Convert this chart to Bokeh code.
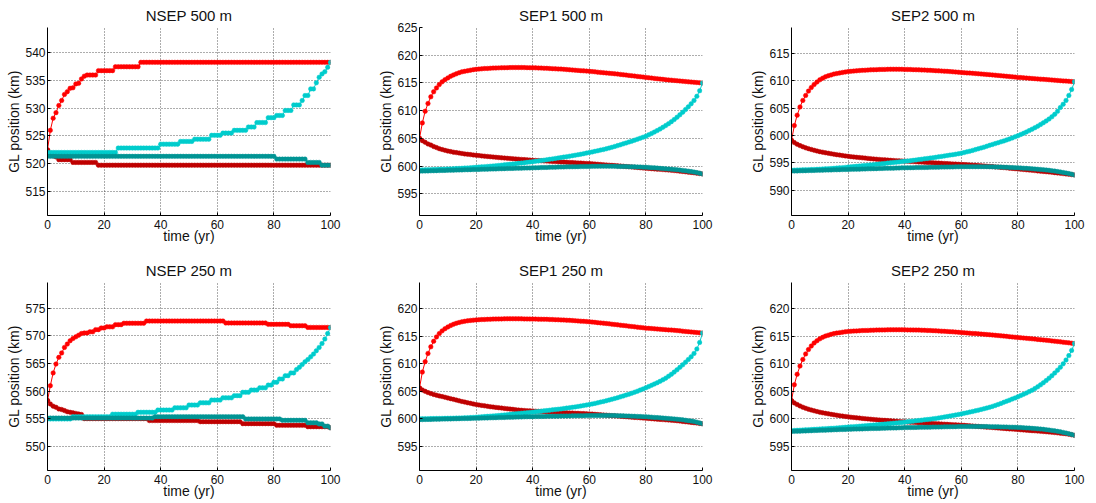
from bokeh.plotting import figure
from bokeh.layouts import column, row
from bokeh.models import FixedTicker, Range1d
from bokeh.embed import file_html
from bokeh.resources import INLINE

# ---------------- data ----------------
years = list(range(0, 101))

# NSEP panels are piecewise constant: (value, number of yearly samples)
nsep500_red_steps = [(522.5, 1), (526.0, 1), (528.2, 1), (529.2, 1), (530.5, 1), (531.4, 1), (532.5, 1),
                     (533.0, 1), (533.6, 1), (533.7, 1), (534.4, 1), (534.5, 1), (535.3, 1), (535.8, 1),
                     (536.0, 4), (536.8, 6), (537.5, 9), (538.3, 68)]
nsep500_dred_steps = [(522.4, 1), (521.8, 1), (521.4, 1), (521.2, 1), (520.7, 5), (520.2, 9), (519.7, 83)]
nsep500_cyan_steps = [(522.0, 25), (522.8, 15), (523.5, 7), (524.0, 5), (524.4, 6), (525.1, 4), (525.5, 4),
                      (526.0, 5), (526.6, 3), (527.4, 4), (528.3, 3), (528.7, 3), (529.6, 3), (530.6, 3),
                      (531.4, 1), (532.3, 2), (533.5, 2), (534.6, 1), (535.6, 1), (536.2, 1), (536.6, 1),
                      (537.4, 1), (538.3, 1)]
nsep500_teal_steps = [(521.3, 81), (520.8, 11), (520.2, 5), (519.7, 4)]

nsep250_red_steps = [(558.3, 1), (561.0, 1), (563.3, 1), (564.9, 1), (566.1, 1), (566.9, 1), (567.9, 1),
                     (568.5, 1), (569.1, 1), (569.5, 1), (569.8, 1), (570.1, 1), (570.4, 1),
                     (570.5, 2), (570.7, 2), (571.1, 2), (571.4, 2), (571.6, 3), (572.0, 3), (572.25, 8),
                     (572.65, 28), (572.3, 15), (572.05, 8), (571.8, 6), (571.5, 9)]
nsep250_dred_steps = [(558.3, 1), (557.7, 1), (557.3, 1), (557.1, 1), (556.8, 1), (556.7, 1), (556.5, 1),
                      (556.3, 1), (556.2, 1), (556.1, 1), (556.0, 1), (555.9, 1), (555.8, 1),
                      (555.05, 23), (554.7, 18), (554.5, 15), (554.15, 12), (553.85, 11), (553.6, 8), (553.4, 1)]
nsep250_cyan_steps = [(555.0, 9), (555.4, 14), (555.85, 9), (556.2, 7), (556.6, 6), (557.0, 5), (557.5, 4),
                      (557.9, 4), (558.4, 4), (558.8, 4), (559.2, 3), (559.8, 3), (560.2, 3), (560.6, 3),
                      (561.1, 2), (561.6, 2), (562.2, 2), (562.8, 2), (563.3, 2), (563.9, 1), (564.3, 1),
                      (564.8, 1), (565.3, 1), (565.7, 1), (566.2, 1), (566.7, 1), (567.3, 1), (567.9, 1),
                      (568.6, 1), (569.4, 1), (570.4, 1), (571.5, 1)]
nsep250_teal_steps = [(555.15, 38), (555.4, 32), (555.0, 13), (554.75, 9), (554.3, 4), (554.1, 2), (553.7, 2),
                      (553.4, 1)]

sep1_500_red = [605.0, 607.8, 609.9, 611.3, 612.5, 613.4, 614.1, 614.7, 615.2, 615.6,
                615.9, 616.2, 616.45, 616.65, 616.85, 617.0, 617.1, 617.2, 617.3, 617.4,
                617.45, 617.5, 617.55, 617.6, 617.62, 617.65, 617.68, 617.7, 617.72, 617.74,
                617.75, 617.76, 617.77, 617.78, 617.78, 617.78, 617.78, 617.77, 617.76, 617.75,
                617.74, 617.72, 617.7, 617.68, 617.66, 617.64, 617.61, 617.58, 617.55, 617.52,
                617.5, 617.46, 617.42, 617.38, 617.34, 617.3, 617.26, 617.22, 617.18, 617.14,
                617.1, 617.05, 617.0, 616.95, 616.9, 616.85, 616.8, 616.75, 616.7, 616.65,
                616.6, 616.54, 616.48, 616.42, 616.36, 616.3, 616.24, 616.18, 616.12, 616.06,
                616.0, 615.94, 615.88, 615.82, 615.76, 615.7, 615.65, 615.6, 615.55, 615.5,
                615.45, 615.4, 615.35, 615.3, 615.25, 615.2, 615.16, 615.12, 615.08, 615.04, 615.0]
sep1_500_dred = [605.0, 604.6, 604.3, 604.0, 603.8, 603.55, 603.35, 603.15, 603.0, 602.85,
                 602.72, 602.62, 602.52, 602.44, 602.36, 602.28, 602.2, 602.14, 602.08, 602.02,
                 601.96, 601.9, 601.85, 601.8, 601.75, 601.7, 601.65, 601.6, 601.55, 601.5,
                 601.46, 601.42, 601.38, 601.34, 601.3, 601.26, 601.22, 601.18, 601.14, 601.1,
                 601.06, 601.03, 601.0, 600.97, 600.94, 600.91, 600.88, 600.85, 600.82, 600.79,
                 600.76, 600.73, 600.7, 600.67, 600.64, 600.61, 600.58, 600.55, 600.52, 600.49,
                 600.46, 600.42, 600.38, 600.34, 600.3, 600.26, 600.22, 600.18, 600.14, 600.1,
                 600.06, 600.02, 599.98, 599.93, 599.89, 599.85, 599.8, 599.76, 599.71, 599.66,
                 599.62, 599.58, 599.54, 599.5, 599.46, 599.42, 599.38, 599.34, 599.3, 599.25,
                 599.2, 599.15, 599.1, 599.04, 598.98, 598.92, 598.86, 598.8, 598.74, 598.67, 598.6]
sep1_500_cyan = [599.3, 599.32, 599.33, 599.35, 599.37, 599.38, 599.4, 599.42, 599.44, 599.46,
                 599.48, 599.5, 599.53, 599.56, 599.59, 599.62, 599.65, 599.68, 599.71, 599.75,
                 599.79, 599.83, 599.87, 599.91, 599.95, 599.99, 600.03, 600.08, 600.13, 600.18,
                 600.23, 600.28, 600.33, 600.38, 600.44, 600.5, 600.56, 600.62, 600.68, 600.74,
                 600.8, 600.87, 600.94, 601.01, 601.08, 601.15, 601.23, 601.31, 601.39, 601.47,
                 601.55, 601.63, 601.71, 601.79, 601.88, 601.97, 602.06, 602.15, 602.25, 602.35,
                 602.45, 602.56, 602.67, 602.78, 602.89, 603.0, 603.13, 603.26, 603.4, 603.55,
                 603.7, 603.86, 604.02, 604.18, 604.34, 604.5, 604.68, 604.86, 605.04, 605.22,
                 605.4, 605.65, 605.9, 606.15, 606.42, 606.7, 607.0, 607.32, 607.66, 608.02,
                 608.4, 608.82, 609.26, 609.72, 610.2, 610.7, 611.25, 611.85, 612.6, 613.6, 615.0]
sep1_500_teal = [599.1, 599.11, 599.13, 599.14, 599.16, 599.17, 599.19, 599.2, 599.22, 599.23,
                 599.25, 599.26, 599.28, 599.29, 599.31, 599.32, 599.34, 599.35, 599.37, 599.38,
                 599.4, 599.41, 599.43, 599.44, 599.46, 599.47, 599.49, 599.5, 599.52, 599.53,
                 599.55, 599.56, 599.58, 599.59, 599.61, 599.62, 599.64, 599.65, 599.67, 599.68,
                 599.7, 599.71, 599.73, 599.74, 599.76, 599.77, 599.79, 599.8, 599.82, 599.83,
                 599.85, 599.86, 599.87, 599.88, 599.89, 599.9, 599.91, 599.92, 599.93, 599.94,
                 599.95, 599.96, 599.97, 599.98, 599.99, 600.0, 600.0, 599.99, 599.98, 599.97,
                 599.95, 599.94, 599.93, 599.92, 599.91, 599.9, 599.88, 599.86, 599.84, 599.82,
                 599.8, 599.77, 599.73, 599.69, 599.65, 599.6, 599.56, 599.52, 599.48, 599.44,
                 599.4, 599.35, 599.29, 599.23, 599.17, 599.1, 599.02, 598.93, 598.84, 598.73, 598.6]

sep2_500_red = [599.1, 601.8, 603.7, 605.2, 606.4, 607.3, 608.1, 608.75, 609.3, 609.75,
                610.15, 610.45, 610.7, 610.9, 611.05, 611.2, 611.3, 611.4, 611.5, 611.58,
                611.65, 611.7, 611.75, 611.8, 611.84, 611.88, 611.91, 611.94, 611.97, 611.99,
                612.01, 612.03, 612.05, 612.06, 612.07, 612.08, 612.08, 612.08, 612.08, 612.07,
                612.06, 612.05, 612.03, 612.01, 611.99, 611.97, 611.95, 611.93, 611.9, 611.88,
                611.85, 611.82, 611.79, 611.76, 611.73, 611.7, 611.66, 611.62, 611.58, 611.54,
                611.5, 611.46, 611.42, 611.38, 611.34, 611.3, 611.26, 611.22, 611.18, 611.14,
                611.1, 611.05, 611.0, 610.95, 610.9, 610.85, 610.8, 610.75, 610.7, 610.65,
                610.6, 610.56, 610.52, 610.48, 610.44, 610.4, 610.36, 610.32, 610.28, 610.24,
                610.2, 610.16, 610.12, 610.08, 610.04, 610.0, 609.96, 609.92, 609.88, 609.84, 609.8]
sep2_500_dred = [599.1, 598.7, 598.4, 598.15, 597.95, 597.75, 597.6, 597.45, 597.3, 597.17,
                 597.05, 596.95, 596.85, 596.76, 596.67, 596.58, 596.5, 596.42, 596.34, 596.27,
                 596.2, 596.14, 596.08, 596.02, 595.97, 595.92, 595.87, 595.82, 595.77, 595.72,
                 595.67, 595.63, 595.59, 595.55, 595.51, 595.47, 595.44, 595.41, 595.38, 595.35,
                 595.32, 595.29, 595.26, 595.23, 595.2, 595.17, 595.14, 595.11, 595.08, 595.05,
                 595.02, 594.99, 594.96, 594.93, 594.9, 594.87, 594.84, 594.81, 594.78, 594.75,
                 594.72, 594.69, 594.66, 594.62, 594.59, 594.55, 594.52, 594.48, 594.44, 594.4,
                 594.36, 594.32, 594.27, 594.23, 594.18, 594.14, 594.09, 594.04, 593.99, 593.94,
                 593.89, 593.84, 593.79, 593.74, 593.69, 593.64, 593.59, 593.54, 593.49, 593.44,
                 593.39, 593.34, 593.28, 593.22, 593.16, 593.1, 593.04, 592.98, 592.92, 592.86, 592.8]
sep2_500_cyan = [593.65, 593.67, 593.69, 593.71, 593.73, 593.75, 593.77, 593.79, 593.81, 593.83,
                 593.86, 593.89, 593.92, 593.95, 593.98, 594.01, 594.05, 594.09, 594.13, 594.18,
                 594.23, 594.28, 594.33, 594.38, 594.43, 594.48, 594.53, 594.58, 594.63, 594.68,
                 594.73, 594.79, 594.85, 594.91, 594.97, 595.03, 595.08, 595.13, 595.18, 595.23,
                 595.28, 595.34, 595.4, 595.46, 595.53, 595.6, 595.67, 595.74, 595.81, 595.88,
                 595.95, 596.02, 596.1, 596.18, 596.26, 596.34, 596.42, 596.5, 596.58, 596.67,
                 596.76, 596.88, 597.01, 597.14, 597.28, 597.42, 597.57, 597.72, 597.87, 598.03,
                 598.2, 598.36, 598.52, 598.68, 598.84, 599.0, 599.18, 599.36, 599.55, 599.75,
                 599.95, 600.17, 600.4, 600.64, 600.89, 601.15, 601.42, 601.7, 602.0, 602.32,
                 602.65, 603.0, 603.4, 603.85, 604.4, 605.1, 605.7, 606.4, 607.3, 608.4, 609.8]
sep2_500_teal = [593.5, 593.52, 593.53, 593.55, 593.56, 593.58, 593.59, 593.61, 593.62, 593.64,
                 593.65, 593.67, 593.68, 593.7, 593.71, 593.73, 593.74, 593.76, 593.77, 593.79,
                 593.8, 593.82, 593.83, 593.85, 593.86, 593.88, 593.89, 593.91, 593.92, 593.94,
                 593.95, 593.97, 593.98, 594.0, 594.01, 594.03, 594.04, 594.06, 594.07, 594.09,
                 594.1, 594.11, 594.12, 594.13, 594.14, 594.15, 594.16, 594.17, 594.18, 594.19,
                 594.2, 594.21, 594.22, 594.23, 594.24, 594.25, 594.26, 594.27, 594.28, 594.29,
                 594.3, 594.3, 594.31, 594.31, 594.31, 594.31, 594.31, 594.31, 594.3, 594.3,
                 594.29, 594.28, 594.27, 594.25, 594.24, 594.22, 594.2, 594.18, 594.15, 594.13,
                 594.1, 594.07, 594.03, 594.0, 593.96, 593.92, 593.88, 593.84, 593.79, 593.75,
                 593.7, 593.64, 593.57, 593.5, 593.42, 593.34, 593.25, 593.16, 593.06, 592.94, 592.8]

sep1_250_red = [605.6, 608.5, 610.4, 611.9, 613.1, 614.1, 614.9, 615.5, 616.0, 616.4,
                616.7, 616.97, 617.2, 617.38, 617.53, 617.65, 617.75, 617.83, 617.9, 617.95,
                618.0, 618.03, 618.06, 618.08, 618.1, 618.12, 618.14, 618.16, 618.17, 618.18,
                618.19, 618.2, 618.2, 618.2, 618.2, 618.2, 618.19, 618.18, 618.17, 618.16,
                618.15, 618.14, 618.13, 618.12, 618.11, 618.1, 618.08, 618.06, 618.04, 618.02,
                618.0, 617.97, 617.94, 617.91, 617.88, 617.85, 617.81, 617.77, 617.73, 617.69,
                617.65, 617.6, 617.55, 617.5, 617.45, 617.4, 617.34, 617.28, 617.22, 617.16,
                617.1, 617.04, 616.98, 616.92, 616.86, 616.8, 616.74, 616.68, 616.62, 616.56,
                616.5, 616.46, 616.42, 616.38, 616.34, 616.3, 616.26, 616.22, 616.18, 616.14,
                616.1, 616.05, 616.0, 615.95, 615.9, 615.85, 615.8, 615.75, 615.7, 615.65, 615.6]
sep1_250_dred = [605.6, 605.25, 605.0, 604.78, 604.6, 604.44, 604.3, 604.17, 604.05, 603.93,
                 603.8, 603.67, 603.54, 603.41, 603.28, 603.15, 603.04, 602.93, 602.82, 602.71,
                 602.6, 602.52, 602.44, 602.36, 602.28, 602.2, 602.14, 602.08, 602.02, 601.96,
                 601.9, 601.84, 601.78, 601.72, 601.66, 601.6, 601.56, 601.52, 601.48, 601.45,
                 601.42, 601.39, 601.36, 601.34, 601.31, 601.28, 601.26, 601.23, 601.2, 601.18,
                 601.15, 601.12, 601.1, 601.07, 601.05, 601.02, 601.0, 600.97, 600.95, 600.92,
                 600.9, 600.86, 600.82, 600.78, 600.74, 600.7, 600.66, 600.62, 600.58, 600.54,
                 600.5, 600.46, 600.42, 600.38, 600.34, 600.3, 600.26, 600.22, 600.18, 600.14,
                 600.1, 600.06, 600.02, 599.98, 599.94, 599.9, 599.86, 599.82, 599.78, 599.74,
                 599.7, 599.65, 599.59, 599.53, 599.47, 599.41, 599.35, 599.29, 599.23, 599.17, 599.1]
sep1_250_cyan = [600.0, 600.01, 600.02, 600.03, 600.04, 600.05, 600.06, 600.07, 600.08, 600.09,
                 600.1, 600.11, 600.12, 600.13, 600.15, 600.17, 600.19, 600.21, 600.23, 600.26,
                 600.3, 600.33, 600.37, 600.41, 600.45, 600.49, 600.53, 600.57, 600.61, 600.66,
                 600.71, 600.76, 600.81, 600.86, 600.91, 600.96, 601.01, 601.06, 601.11, 601.16,
                 601.21, 601.27, 601.33, 601.39, 601.45, 601.51, 601.57, 601.63, 601.69, 601.75,
                 601.81, 601.88, 601.95, 602.02, 602.09, 602.17, 602.25, 602.33, 602.42, 602.51,
                 602.6, 602.7, 602.81, 602.92, 603.04, 603.16, 603.29, 603.42, 603.56, 603.7,
                 603.85, 604.0, 604.16, 604.32, 604.49, 604.66, 604.84, 605.03, 605.23, 605.43,
                 605.65, 605.87, 606.1, 606.34, 606.58, 606.82, 607.1, 607.4, 607.75, 608.1,
                 608.5, 608.92, 609.36, 609.82, 610.3, 610.8, 611.3, 611.9, 612.7, 613.9, 615.6]
sep1_250_teal = [599.85, 599.86, 599.88, 599.89, 599.9, 599.91, 599.93, 599.94, 599.95, 599.96,
                 599.98, 599.99, 600.0, 600.01, 600.03, 600.04, 600.05, 600.06, 600.08, 600.09,
                 600.1, 600.12, 600.13, 600.15, 600.16, 600.18, 600.19, 600.21, 600.22, 600.24,
                 600.25, 600.27, 600.28, 600.3, 600.31, 600.33, 600.34, 600.36, 600.37, 600.39,
                 600.4, 600.41, 600.42, 600.43, 600.44, 600.45, 600.46, 600.47, 600.48, 600.49,
                 600.5, 600.51, 600.52, 600.53, 600.54, 600.55, 600.56, 600.57, 600.58, 600.59,
                 600.6, 600.6, 600.61, 600.61, 600.61, 600.61, 600.61, 600.6, 600.6, 600.59,
                 600.58, 600.56, 600.54, 600.52, 600.5, 600.48, 600.46, 600.44, 600.42, 600.4,
                 600.37, 600.34, 600.3, 600.26, 600.22, 600.18, 600.14, 600.1, 600.06, 600.02,
                 599.98, 599.93, 599.87, 599.81, 599.74, 599.67, 599.59, 599.5, 599.4, 599.26, 599.1]

sep2_250_red = [603.3, 606.2, 608.1, 609.6, 610.8, 611.8, 612.6, 613.25, 613.8, 614.2,
                614.55, 614.82, 615.05, 615.22, 615.37, 615.5, 615.6, 615.68, 615.76, 615.83,
                615.89, 615.93, 615.96, 615.99, 616.02, 616.05, 616.07, 616.09, 616.11, 616.13,
                616.15, 616.16, 616.17, 616.18, 616.19, 616.2, 616.2, 616.2, 616.2, 616.2,
                616.19, 616.18, 616.17, 616.16, 616.15, 616.14, 616.12, 616.1, 616.08, 616.06,
                616.04, 616.01, 615.98, 615.95, 615.92, 615.89, 615.86, 615.82, 615.78, 615.74,
                615.7, 615.66, 615.62, 615.58, 615.54, 615.5, 615.46, 615.42, 615.38, 615.34,
                615.3, 615.25, 615.2, 615.15, 615.1, 615.05, 615.0, 614.95, 614.9, 614.85,
                614.8, 614.75, 614.7, 614.65, 614.6, 614.55, 614.5, 614.45, 614.4, 614.35,
                614.3, 614.24, 614.18, 614.12, 614.06, 614.0, 613.94, 613.88, 613.82, 613.76, 613.7]
sep2_250_dred = [603.3, 602.9, 602.6, 602.35, 602.12, 601.92, 601.75, 601.6, 601.46, 601.33,
                 601.21, 601.1, 601.0, 600.91, 600.82, 600.74, 600.66, 600.58, 600.5, 600.43,
                 600.36, 600.3, 600.24, 600.18, 600.13, 600.08, 600.03, 599.98, 599.93, 599.88,
                 599.84, 599.8, 599.76, 599.72, 599.68, 599.64, 599.6, 599.56, 599.52, 599.48,
                 599.45, 599.42, 599.39, 599.36, 599.33, 599.3, 599.27, 599.24, 599.21, 599.18,
                 599.15, 599.12, 599.09, 599.06, 599.03, 599.0, 598.97, 598.94, 598.91, 598.88,
                 598.85, 598.81, 598.77, 598.73, 598.69, 598.65, 598.61, 598.57, 598.53, 598.49,
                 598.45, 598.41, 598.37, 598.33, 598.29, 598.25, 598.21, 598.17, 598.13, 598.09,
                 598.05, 598.01, 597.97, 597.93, 597.89, 597.85, 597.81, 597.77, 597.73, 597.69,
                 597.65, 597.6, 597.55, 597.5, 597.45, 597.39, 597.33, 597.27, 597.2, 597.1, 597.0]
sep2_250_cyan = [597.85, 597.88, 597.91, 597.94, 597.97, 598.0, 598.03, 598.06, 598.09, 598.12,
                 598.15, 598.18, 598.21, 598.24, 598.27, 598.3, 598.34, 598.38, 598.42, 598.46,
                 598.5, 598.54, 598.58, 598.62, 598.66, 598.7, 598.74, 598.78, 598.82, 598.86,
                 598.9, 598.95, 599.0, 599.05, 599.1, 599.15, 599.2, 599.25, 599.3, 599.35,
                 599.4, 599.46, 599.52, 599.58, 599.64, 599.7, 599.76, 599.82, 599.88, 599.94,
                 600.0, 600.08, 600.16, 600.24, 600.33, 600.42, 600.51, 600.6, 600.7, 600.8,
                 600.9, 601.0, 601.11, 601.22, 601.34, 601.46, 601.58, 601.7, 601.83, 601.96,
                 602.1, 602.26, 602.43, 602.61, 602.8, 603.0, 603.2, 603.4, 603.6, 603.8,
                 604.0, 604.23, 604.46, 604.7, 604.95, 605.2, 605.5, 605.83, 606.18, 606.56,
                 606.96, 607.4, 607.85, 608.33, 608.85, 609.4, 610.0, 610.7, 611.5, 612.45, 613.7]
sep2_250_teal = [597.7, 597.72, 597.74, 597.76, 597.78, 597.8, 597.82, 597.84, 597.86, 597.88,
                 597.9, 597.92, 597.94, 597.96, 597.98, 598.0, 598.02, 598.04, 598.06, 598.08,
                 598.1, 598.11, 598.13, 598.14, 598.16, 598.17, 598.19, 598.2, 598.22, 598.23,
                 598.25, 598.26, 598.28, 598.29, 598.31, 598.32, 598.34, 598.35, 598.37, 598.38,
                 598.4, 598.41, 598.42, 598.43, 598.44, 598.45, 598.46, 598.47, 598.48, 598.49,
                 598.5, 598.51, 598.52, 598.53, 598.54, 598.55, 598.56, 598.57, 598.58, 598.59,
                 598.6, 598.6, 598.61, 598.61, 598.61, 598.61, 598.61, 598.6, 598.6, 598.59,
                 598.58, 598.57, 598.56, 598.55, 598.53, 598.52, 598.5, 598.49, 598.48, 598.46,
                 598.44, 598.41, 598.38, 598.35, 598.31, 598.27, 598.23, 598.19, 598.14, 598.09,
                 598.03, 597.96, 597.89, 597.81, 597.72, 597.63, 597.53, 597.42, 597.3, 597.16, 597.0]

titles = ["NSEP 500 m", "SEP1 500 m", "SEP2 500 m", "NSEP 250 m", "SEP1 250 m", "SEP2 250 m"]
y_ranges = [(510.6, 544.6), (591.1, 625.0), (585.4, 619.7), (545.7, 579.6), (590.6, 624.8), (590.6, 624.8)]
y_ticks = [[515, 520, 525, 530, 535, 540], [595, 600, 605, 610, 615, 620, 625],
           [590, 595, 600, 605, 610, 615], [550, 555, 560, 565, 570, 575],
           [595, 600, 605, 610, 615, 620], [595, 600, 605, 610, 615, 620]]
x_ticks = [0, 20, 40, 60, 80, 100]
x_label = "time (yr)"
y_label = "GL position (km)"


def expand(steps):
    out = []
    for v, n in steps:
        out.extend([v] * n)
    return out


panel_series = [
    [expand(nsep500_red_steps), expand(nsep500_dred_steps), expand(nsep500_cyan_steps), expand(nsep500_teal_steps)],
    [sep1_500_red, sep1_500_dred, sep1_500_cyan, sep1_500_teal],
    [sep2_500_red, sep2_500_dred, sep2_500_cyan, sep2_500_teal],
    [expand(nsep250_red_steps), expand(nsep250_dred_steps), expand(nsep250_cyan_steps), expand(nsep250_teal_steps)],
    [sep1_250_red, sep1_250_dred, sep1_250_cyan, sep1_250_teal],
    [sep2_250_red, sep2_250_dred, sep2_250_cyan, sep2_250_teal],
]
colors = ["#ff0000", "#bf0000", "#00cccc", "#009494"]

FONT = "Liberation Sans"
FW, FH = 283, 188
TEXT = "#111111"


def make_panel(i):
    col = i % 3
    rw = i // 3
    p = figure(frame_width=FW, frame_height=FH,
               x_range=Range1d(0, 100), y_range=Range1d(*y_ranges[i]),
               output_backend="svg", toolbar_location=None,
               min_border_left=47, min_border_right=(42 if col < 2 else 15),
               min_border_top=(27 if rw == 0 else 34),
               min_border_bottom=(33 if rw == 0 else 30))
    p.title.text = titles[i]
    p.title.align = "center"
    p.title.text_font = FONT
    p.title.text_font_size = "15px"
    p.title.text_font_style = "normal"
    p.title.text_color = TEXT
    p.title.standoff = 8
    p.outline_line_color = None
    p.background_fill_color = "white"
    p.border_fill_color = "white"

    for ax in (p.xaxis[0], p.yaxis[0]):
        ax.axis_line_color = "black"
        ax.major_tick_in = 3
        ax.major_tick_out = 0
        ax.minor_tick_line_color = None
        ax.major_label_text_font = FONT
        ax.major_label_text_font_size = "12px"
        ax.major_label_text_color = TEXT
        ax.axis_label_text_font = FONT
        ax.axis_label_text_font_size = "14px"
        ax.axis_label_text_font_style = "normal"
        ax.axis_label_text_color = TEXT
    p.xaxis.ticker = FixedTicker(ticks=x_ticks)
    p.yaxis.ticker = FixedTicker(ticks=y_ticks[i])
    p.xaxis.axis_label = x_label
    p.yaxis.axis_label = y_label
    p.xaxis.major_label_standoff = 4
    p.xaxis.axis_label_standoff = -4
    p.yaxis.major_label_standoff = 2
    p.yaxis.axis_label_standoff = 0

    for g in (p.xgrid[0], p.ygrid[0]):
        g.grid_line_color = "#333333"
        g.grid_line_dash = "1 2"
        g.grid_line_width = 1
        g.grid_line_alpha = 0.8

    for ys, c in zip(panel_series[i], colors):
        p.line(years, ys, line_color=c, line_width=1)
        p.scatter(years, ys, size=4.5, fill_color=c, line_color=c, line_width=0.5)
    return p


panels = [make_panel(i) for i in range(6)]
layout = column(row(*panels[:3]), row(*panels[3:]))

open("out.html", "w").write(file_html(layout, INLINE))
